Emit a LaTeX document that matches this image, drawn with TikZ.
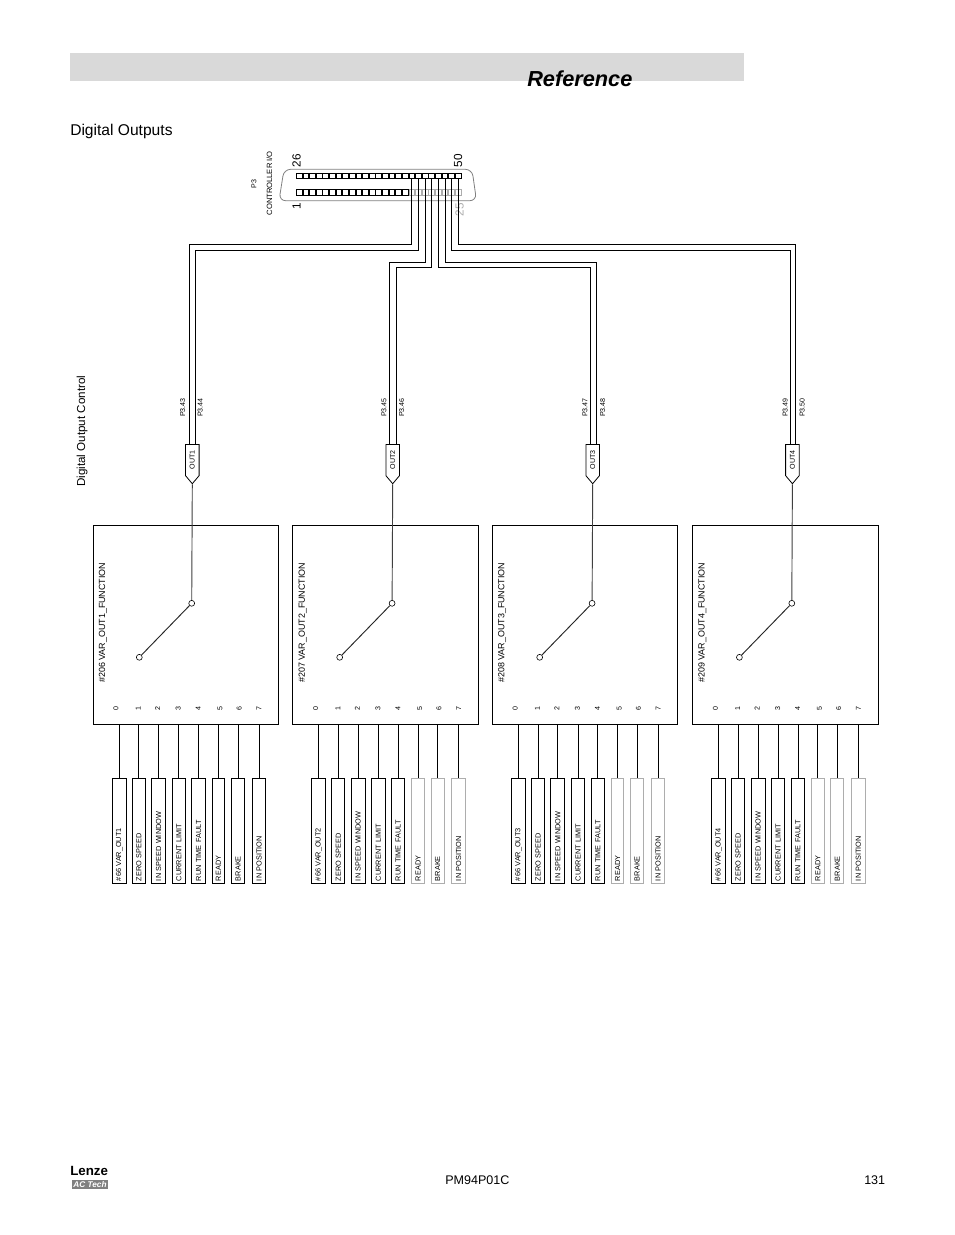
\documentclass[tikz,border=0pt]{standalone}
\usepackage{fontspec}
\setmainfont{Liberation Sans}
\usetikzlibrary{calc, shapes.symbols}

\definecolor{bandgrey}{gray}{0.85}
\definecolor{shellgrey}{gray}{0.5}
\definecolor{fadegrey}{gray}{0.68}

\tikzset{
  pinbox/.style={draw, inner sep=0pt, minimum width=4.3pt, minimum height=4pt, line width=0.75pt},
  fnbox/.style={draw, inner sep=0pt, minimum width=139.3pt, minimum height=149.25pt, line width=0.6pt},
  srcbox/.style={draw, rotate=90, inner xsep=2.2pt, inner ysep=0pt, text width=75pt, align=left,
    minimum height=#1, font=\fontsize{5.5}{6}\selectfont, line width=0.75pt},
  outbox/.style={draw, rotate=90, shape=signal, signal to=west, signal pointer angle=80, inner sep=0pt,
    minimum height=10.2pt, minimum width=29.5pt, font=\fontsize{5.3}{6}\selectfont, line width=0.6pt},
  swdot/.style={draw, circle, inner sep=0pt, minimum size=4.4pt, fill=white, line width=0.45pt},
  tiny5/.style={font=\fontsize{5.3}{6}\selectfont, inner sep=0pt},
  wire/.style={line width=0.75pt},
}

\begin{document}
\begin{tikzpicture}[x=0.75pt, y=-0.75pt]
  \useasboundingbox (0,0) rectangle (954,1235);
  \fill[white] (0,0) rectangle (954,1235);

  % header band
  \fill[bandgrey] (70,53) rectangle (744,81);
  \node[anchor=base west, inner sep=0pt, font=\fontsize{16.3}{18}\selectfont\bfseries\itshape] (reftitle) at (527,86) {Reference};
  \node[anchor=base west, inner sep=0pt, font=\fontsize{11.7}{13}\selectfont] (pagetitle) at (70,135) {Digital Outputs};
  \node[anchor=west, rotate=90, inner sep=0pt, font=\fontsize{8.7}{10}\selectfont] (ctrltitle) at (82,487) {Digital Output Control};

  % connector P3
  \draw[shellgrey, rounded corners=5pt, line width=0.6pt] (284,169.3) -- (472,169.3) -- (476.5,200.7) -- (279,200.7) -- cycle;
  \foreach \i in {1,...,25} {
    \node[pinbox] (top\i) at ({296+6.625*(\i-0.5)},176) {};
    \ifnum\i<18
      \node[pinbox] (bot\i) at ({296+6.625*(\i-0.5)},192.6) {};
    \else
      \node[pinbox, draw=fadegrey] (bot\i) at ({296+6.625*(\i-0.5)},192.6) {};
    \fi
  }
  \node[rotate=90, inner sep=0pt, font=\fontsize{8.8}{10}\selectfont] (pin26) at (296.7,160.7) {26};
  \node[rotate=90, inner sep=0pt, font=\fontsize{8.8}{10}\selectfont] (pin50) at (458,160.7) {50};
  \node[rotate=90, inner sep=0pt, font=\fontsize{8.8}{10}\selectfont] (pin1) at (296.7,206.5) {1};
  \node[rotate=90, inner sep=0pt, text=fadegrey, font=\fontsize{8.8}{10}\selectfont] (pin25) at (459.5,209.5) {25};
  \node[rotate=90, tiny5] (ptag) at (254,184) {P3};
  \node[rotate=90, inner sep=0pt, font=\fontsize{5.7}{6}\selectfont] (ctag) at (269.3,183.3) {CONTROLLER I/O};

  % one group per output
  \foreach \g/\dx/\ox/\fn/\pa/\pb/\lx/\rx in {1/0/192.3/206/43/44/182.7/200.2, 2/199.6/392.7/207/45/46/384/401.7,
      3/399.2/592.7/208/47/48/585/602.7, 4/599.4/792.4/209/49/50/785.3/802.3} {
    \node[fnbox, anchor=north west] (fn\g) at (92.5+\dx,525) {};
    \node[rotate=90, anchor=west, inner sep=0pt, font=\fontsize{6.7}{8}\selectfont] (fnname\g) at (103+\dx,683) {\#\fn\ VAR\_OUT\g\_FUNCTION};
    \node[outbox, anchor=east] (out\g) at (\ox,444) {OUT\g};
    \node[swdot] (swa\g) at (\ox-0.6,603.3) {};
    \node[swdot] (swb\g) at (\ox-53,657.3) {};
    \draw[line width=0.7pt, black!75] (out\g.west) -- (swa\g);
    \draw[line width=0.7pt, black!85] (swa\g) -- (swb\g);
    \node[rotate=90, tiny5] (pa\g) at (\lx,407.5) {P3.\pa};
    \node[rotate=90, tiny5] (pb\g) at (\rx,407.5) {P3.\pb};
    % inputs of the selector
    \foreach \i/\x/\dg/\bw/\lab in {0/119.3/116/10.5pt/{\#66 VAR\_OUT\g}, 1/138.8/138.3/9.8pt/ZERO SPEED,
        2/158.6/157.7/10.5pt/IN SPEED WINDOW, 3/178.8/178.3/10pt/CURRENT LIMIT,
        4/198.6/198.3/10pt/RUN TIME FAULT, 5/218.4/220/9.5pt/READY,
        6/238/239.3/9.8pt/BRAKE, 7/259/259/10pt/IN POSITION} {
      \node[rotate=90, tiny5] (dig\g-\i) at (\dg+\dx,708.3) {\i};
      \ifnum\i>4 \ifnum\g>1
        \node[srcbox=\bw, draw=fadegrey] (src\g-\i) at (\x+\dx,831) {\lab};
      \else
        \node[srcbox=\bw] (src\g-\i) at (\x+\dx,831) {\lab};
      \fi \else
        \node[srcbox=\bw] (src\g-\i) at (\x+\dx,831) {\lab};
      \fi
      \draw[line width=0.75pt] (src\g-\i.east) -- (src\g-\i.east |- fn\g.south);
    }
  }

  % wiring from P3 to the outputs
  \foreach \p/\y/\g/\s in {18/244.3/1/-3, 19/250/1/3.4, 20/262/2/-3.4, 21/267.3/2/3.6,
      22/267.3/3/-2.7, 23/262/3/4, 24/250/4/-2.2, 25/244.3/4/2.8} {
    \draw[wire] (top\p.south) -- (top\p.south |- 0,\y) -| ([xshift=\s*0.75pt]out\g.east);
  }

  % footer
  \node[anchor=base west, inner sep=0pt, font=\fontsize{10}{11}\selectfont\bfseries] (logo) at (70,1175) {Lenze};
  \node[anchor=north west, fill=black!50, text=white, inner sep=0pt, minimum width=27.4pt, minimum height=6.8pt,
    font=\fontsize{6.2}{7}\selectfont\bfseries\itshape] (logotag) at (71.5,1180) {AC Tech};
  \node[anchor=base west, inner sep=0pt, font=\fontsize{9.4}{11}\selectfont] (docid) at (445,1184.3) {PM94P01C};
  \node[anchor=base west, inner sep=0pt, font=\fontsize{9.4}{11}\selectfont] (pageno) at (864,1184.3) {131};
\end{tikzpicture}
\end{document}
